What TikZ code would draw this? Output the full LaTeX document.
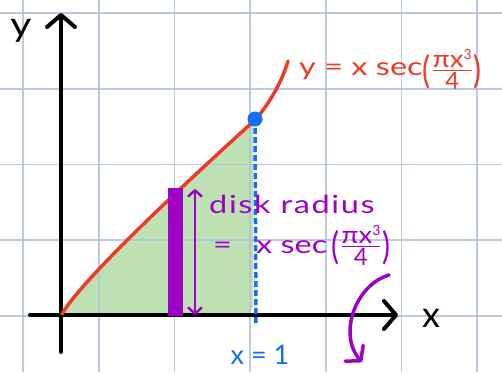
\documentclass[tikz,border=0pt]{standalone}
\usepackage{amsmath}
\usepackage{graphicx}
\usepackage{fontspec}
\setmainfont{Lato}
\usetikzlibrary{arrows.meta}
\definecolor{cred}{RGB}{238,58,40}
\definecolor{cpurple}{RGB}{158,0,198}
\definecolor{cblue}{RGB}{20,110,250}
\definecolor{cgreen}{RGB}{189,225,178}
\definecolor{cgrid}{RGB}{178,194,220}
\newcommand{\wide}[1]{\scalebox{1.3}[1]{#1}}
\newcommand{\fracsz}{\fontsize{24}{24}\selectfont}
\newcommand{\lpar}{\raisebox{-6pt}{\scalebox{1.2}[1.5]{(}}}
\newcommand{\rpar}{\raisebox{-6pt}{\scalebox{1.2}[1.5]{)}}}
\newcommand{\fracbody}{\ensuremath{\frac{\text{\scalebox{1.15}[1]{\fracsz πx}\raisebox{0.45em}{\fontsize{14}{14}\selectfont 3}}}{\text{\fracsz 4}}}}
\newcommand{\secfrac}[1]{\raisebox{#1}{\lpar\hspace{1pt}\fracbody\hspace{1pt}\rpar}}
\begin{document}
\begin{tikzpicture}[x=1pt,y=-1pt,
  gridline/.style={cgrid,line width=1.6pt},
  axis/.style={black,line width=4pt,line cap=round},
  axtip/.style={-{Straight Barb[length=12pt,width=28pt,round]}},
  curve/.style={cred,line width=3.5pt,line cap=round},
  bluedash/.style={cblue,line width=3.5pt,dash pattern=on 6pt off 3pt},
  dimarrow/.style={cpurple,line width=2.5pt,line cap=round,
     {Straight Barb[length=6pt,width=13pt,round]}-{Straight Barb[length=6pt,width=13pt,round]}},
  rotarrow/.style={cpurple,line width=3.5pt,line cap=round,
     -{Straight Barb[length=10pt,width=24pt,round]}},
  lbl/.style={inner sep=0pt,font=\fontsize{25}{27}\selectfont}
]
\useasboundingbox (0,0) rectangle (502,372);
\fill[white] (0,0) rectangle (502,372);
% named points on the curve
\coordinate (O) at (62,314);
\coordinate (Ppt) at (256,119);
\coordinate (Cend) at (288,61);
% green region
\fill[cgreen] (O) .. controls (85,275) and (200,170) .. (Ppt) -- (253,122) -- (253,305) to[out=-90,in=0] (243,315) -- (62,315) -- cycle;
% grid
\foreach \gx in {23,98.7,174.4,250,325.8,401.5,477.2}
  \draw[gridline,opacity=0.85] (\gx,0) -- (\gx,372);
\foreach \gy in {13,88.7,164.4,240,315.8}
  \draw[gridline,opacity=0.85] (0,\gy) -- (502,\gy);
% axes
\coordinate (ytop) at (61,13);
\coordinate (ybot) at (61,352);
\coordinate (xleft) at (30,315);
\coordinate (xright) at (398,315);
\draw[axis] (ybot) -- (61,30);
\draw[axis,axtip] (61,30) -- (ytop);
\draw[axis] (xleft) -- (380,315);
\draw[axis,axtip] (380,315) -- (xright);
\node[lbl,font=\fontsize{34}{36}\selectfont] (ylab) at (21,31) {\scalebox{1.2}[1]{y}};
\node[lbl,font=\fontsize{36}{38}\selectfont] (xlab) at (431,318) {x};
% curve
\draw[curve] (O) .. controls (85,275) and (200,170) .. (Ppt) .. controls (267,106) and (281,85) .. (Cend);
% point and dashed line
\node[circle,fill=cblue,minimum size=15pt,inner sep=0pt] (P) at (255,119) {};
\coordinate (Pfoot) at (256,326);
\draw[bluedash] (P.center) -- (Pfoot);
\node[lbl,text=cblue,anchor=north,font=\fontsize{27}{29}\selectfont] (xeq) at (260,345) {x = 1};
% disk bar
\node[fill=cpurple,minimum width=15pt,minimum height=128pt,inner sep=0pt] (bar) at (175.5,252) {};
\coordinate (rt) at (195,189);
\coordinate (rb) at (195,315);
\draw[dimarrow] (rb) -- (rt);
% labels
\node[lbl,text=cpurple,anchor=base west] (disk) at (209,213) {\wide{\addfontfeature{LetterSpace=5}disk radius}};
\node[lbl,text=cpurple,anchor=base west] (radius) at (213,253) {\wide{=}\hspace{24pt}\wide{x sec}\hspace{4pt}\secfrac{0pt}};
\node[lbl,text=cred,anchor=base west] (eqn) at (299,75) {\wide{y = x sec}\secfrac{-2pt}};
% rotation arrow
\coordinate (ra) at (389,275);
\coordinate (rz) at (362,362);
\draw[rotarrow] (ra) .. controls (355,285) and (338,335) .. (rz);
\end{tikzpicture}
\end{document}
